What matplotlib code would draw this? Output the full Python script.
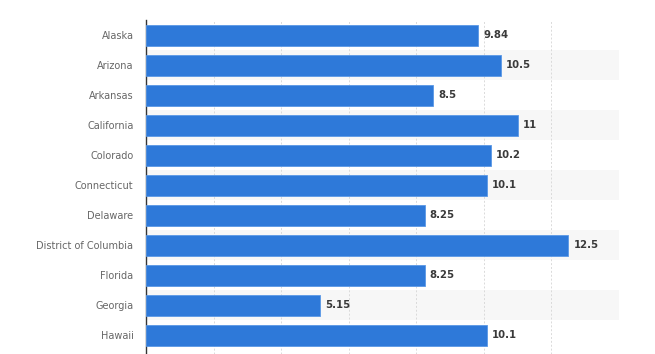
import matplotlib.pyplot as plt

states = ['Alaska', 'Arizona', 'Arkansas', 'California', 'Colorado', 'Connecticut',
          'Delaware', 'District of Columbia', 'Florida', 'Georgia', 'Hawaii']
wages = [9.84, 10.5, 8.5, 11, 10.2, 10.1, 8.25, 12.5, 8.25, 5.15, 10.1]
value_labels = ['9.84', '10.5', '8.5', '11', '10.2', '10.1', '8.25', '12.5', '8.25', '5.15', '10.1']

W, H = 655, 354
fig = plt.figure(figsize=(W / 100, H / 100), dpi=100)
ax = fig.add_axes([146 / W, 0, (619 - 146) / W, (H - 20) / H])

n = len(states)
ypos = list(range(n))

# alternating row backgrounds
for i in ypos:
    if i % 2 == 1:
        ax.axhspan(i - 0.5, i + 0.5, color='#f7f7f7', zorder=0, lw=0)

bars = ax.barh(ypos, wages, height=0.7, color='#2e79d9', edgecolor='#5a98e6',
               linewidth=0.6, zorder=3)

for rect, lab in zip(bars, value_labels):
    ax.text(rect.get_width() + 0.15, rect.get_y() + rect.get_height() / 2, lab,
            va='center', ha='left', fontsize=7.3, color='#3a3a3a',
            fontweight='bold', family='DejaVu Sans', zorder=4)

ax.set_xlim(0, 14)
ax.set_ylim(n - 0.5 + 0.13, -0.5)
ax.set_yticks(ypos)
ax.set_yticklabels(states, fontsize=7, color='#666666')
ax.set_xticks(range(2, 15, 2))
ax.set_xticklabels([])
ax.tick_params(axis='both', length=0)
ax.tick_params(axis='y', pad=9)

ax.grid(axis='x', color='#dadada', linestyle=(0, (2, 2)), linewidth=0.7, zorder=1)
for s in ['top', 'right', 'bottom']:
    ax.spines[s].set_visible(False)
ax.spines['left'].set_color('#333333')
ax.spines['left'].set_linewidth(1)

fig.savefig('out.png', dpi=100)
